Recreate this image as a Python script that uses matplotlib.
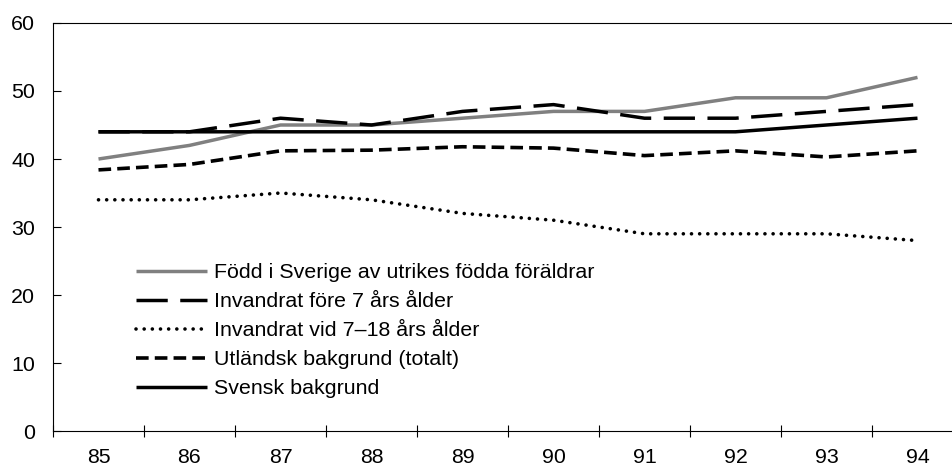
import matplotlib
matplotlib.use("Agg")
import matplotlib.pyplot as plt
import numpy as np

plt.rcParams['font.family'] = ['Liberation Sans', 'DejaVu Sans']

years = ["85", "86", "87", "88", "89", "90", "91", "92", "93", "94"]

fodd_i_sverige = [40, 42, 45, 45, 46, 47, 47, 49, 49, 52]
fore_7 = [44, 44, 46, 45, 47, 48, 46, 46, 47, 48]
vid_7_18 = [34, 34, 35, 34, 32, 31, 29, 29, 29, 28]
utlandsk = [38.4, 39.2, 41.2, 41.3, 41.8, 41.6, 40.5, 41.2, 40.3, 41.2]
svensk = [44, 44, 44, 44, 44, 44, 44, 44, 45, 46]

labels = [
    "Född i Sverige av utrikes födda föräldrar",
    "Invandrat före 7 års ålder",
    "Invandrat vid 7–18 års ålder",
    "Utländsk bakgrund (totalt)",
    "Svensk bakgrund",
]

FS = 15.4

fig = plt.figure(figsize=(9.52, 4.65), dpi=100)
ax = fig.add_axes([53 / 952, 1 - 431 / 465, 910 / 952, 408 / 465])

x = np.arange(len(years))

ax.plot(x, fodd_i_sverige, color="#808080", lw=2.5, solid_capstyle="butt",
        label=labels[0])
ax.plot(x, fore_7, color="black", lw=2.5, dashes=(9, 3.6),
        dash_capstyle="butt", label=labels[1])
ax.plot(x, vid_7_18, color="black", lw=2.6, dashes=(0.01, 2.25),
        dash_capstyle="round", label=labels[2])
ax.plot(x, utlandsk, color="black", lw=2.6, dashes=(3.5, 1.7),
        dash_capstyle="butt", label=labels[3])
ax.plot(x, svensk, color="black", lw=2.5, solid_capstyle="butt",
        label=labels[4])

ax.set_xlim(-0.5, len(years) - 0.5)
ax.set_ylim(0, 60)
ax.set_yticks(range(0, 61, 10))

ax.set_xticks(x)
ax.set_xticklabels(years)
ax.set_xticks(np.arange(-0.5, len(years) + 0.5, 1), minor=True)
ax.tick_params(axis="x", which="major", length=0, pad=12, labelsize=FS)
ax.tick_params(axis="x", which="minor", direction="inout", length=9, width=0.8)
ax.tick_params(axis="y", direction="in", length=6, width=0.8, pad=13,
               labelsize=FS)

for side in ("left", "bottom", "top", "right"):
    ax.spines[side].set_linewidth(0.8)

ax.legend(loc="upper left", bbox_to_anchor=(136 / 952, 1 - 263 / 465),
          bbox_transform=fig.transFigure, frameon=False, fontsize=FS,
          handlelength=3.3, handletextpad=0.33, labelspacing=0.47,
          borderpad=0, borderaxespad=0)

fig.savefig("out.png", dpi=100)
